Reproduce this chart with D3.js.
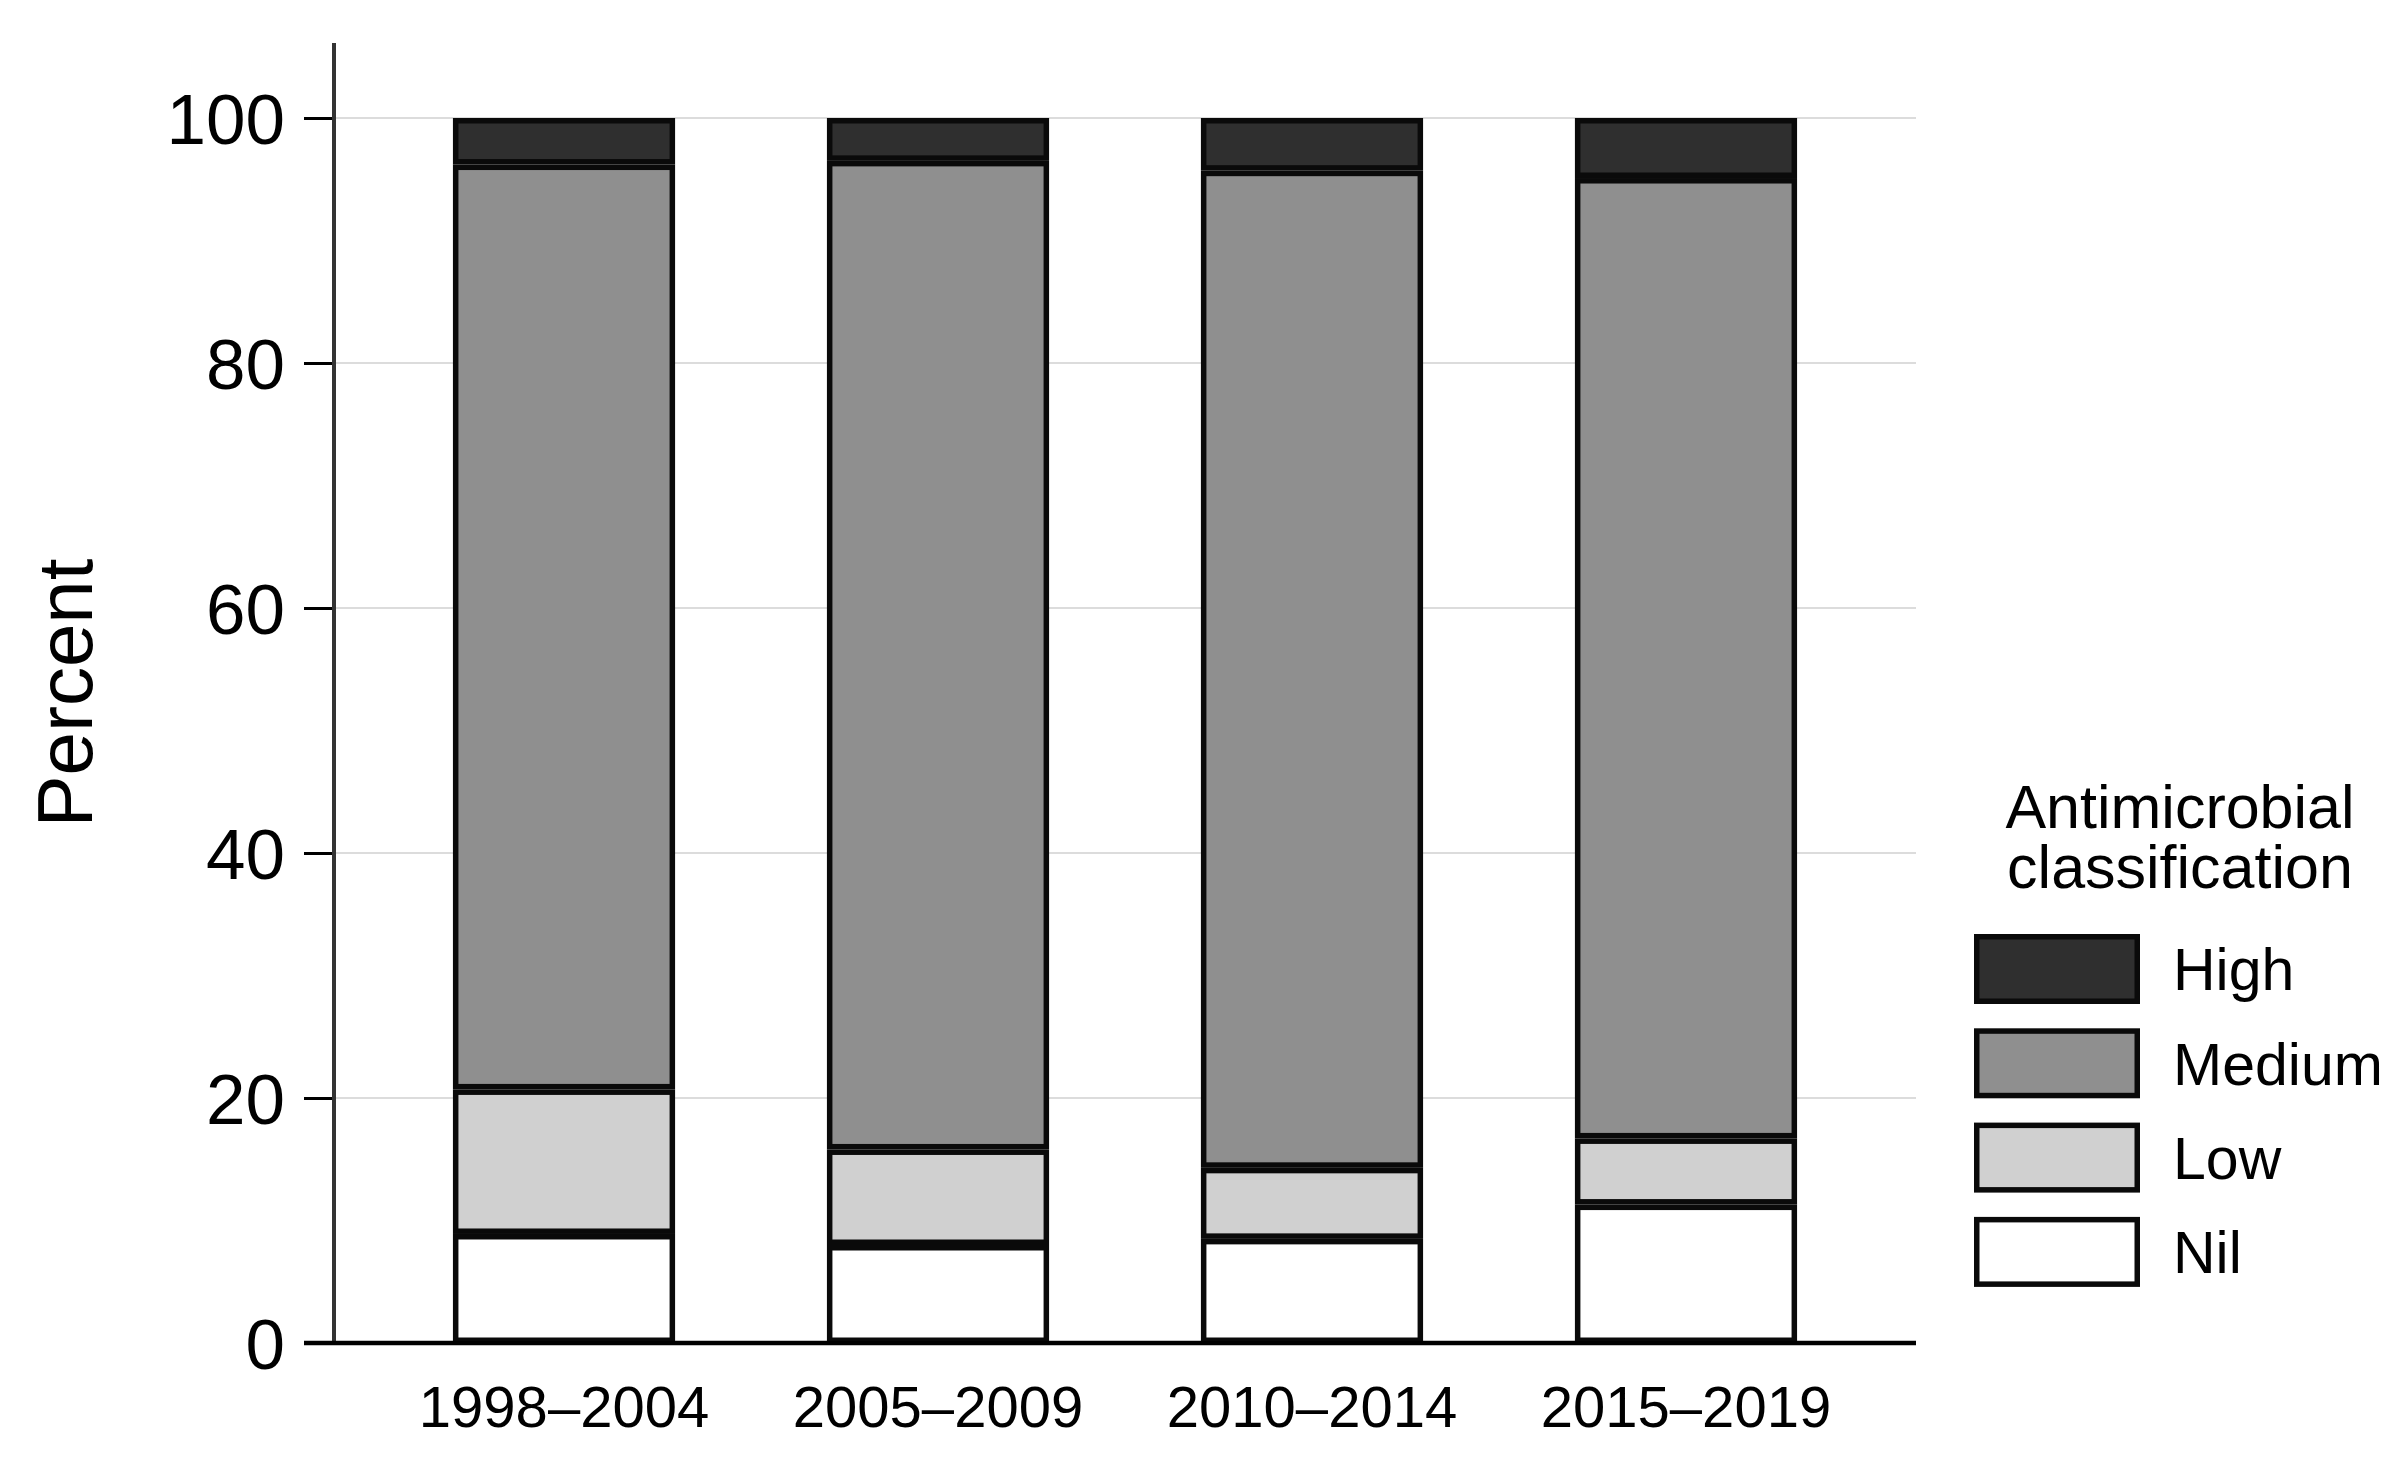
<!DOCTYPE html>
<html>
<head>
<meta charset="utf-8">
<script src="https://cdn.jsdelivr.net/npm/d3@7"></script>
<style>
  html, body { margin: 0; padding: 0; background: #fff; }
  svg { display: block; font-family: "Liberation Sans", Arial, sans-serif; }
</style>
</head>
<body>
<svg id="chart" width="2400" height="1462"></svg>
<script>
// ---- data ----
const categories = ["1998–2004", "2005–2009", "2010–2014", "2015–2019"];
const seriesNames = ["Nil", "Low", "Medium", "High"];
const nilValues = [8.9, 8.0, 8.5, 11.3];
const lowValues = [11.8, 7.8, 5.8, 5.4];
const mediumValues = [75.5, 80.7, 81.4, 78.4];
const highValues = [3.8, 3.5, 4.3, 4.9];
const yTickValues = [0, 20, 40, 60, 80, 100];
const legendTitle = ["Antimicrobial", "classification"];
const legendOrder = ["High", "Medium", "Low", "Nil"];
const yLabel = "Percent";

// ---- build table ----
const table = categories.map((c, i) => ({
  category: c,
  Nil: nilValues[i],
  Low: lowValues[i],
  Medium: mediumValues[i],
  High: highValues[i]
}));

const colors = { High: "#2f2f2f", Medium: "#8f8f8f", Low: "#d0d0d0", Nil: "#ffffff" };
const strokeColor = "#0a0a0a";
const sw = 5.5;

const svg = d3.select("#chart");

const x = d3.scaleBand()
  .domain(categories)
  .range([334, 1916])
  .paddingInner(0.406)
  .paddingOuter(0.318);

const y = d3.scaleLinear().domain([0, 100]).range([1343, 118]);

// gridlines
svg.append("g").selectAll("line")
  .data(yTickValues.filter(d => d > 0))
  .join("line")
  .attr("x1", 334).attr("x2", 1916)
  .attr("y1", d => y(d)).attr("y2", d => y(d))
  .attr("stroke", "#dcdcdc").attr("stroke-width", 2);

// stacked bars
const stacked = d3.stack().keys(seriesNames)(table);
const layers = svg.append("g").selectAll("g")
  .data(stacked)
  .join("g")
  .attr("fill", d => colors[d.key]);

layers.selectAll("rect")
  .data(d => d)
  .join("rect")
  .attr("x", d => x(d.data.category) + sw / 2)
  .attr("width", x.bandwidth() - sw)
  .attr("y", d => y(d[1]) + sw / 2)
  .attr("height", d => Math.max(0, y(d[0]) - y(d[1]) - sw))
  .attr("stroke", strokeColor)
  .attr("stroke-width", sw);

// y axis
const yAxis = d3.axisLeft(y)
  .tickValues(yTickValues)
  .tickSize(30)
  .tickPadding(19)
  .tickFormat(d3.format("d"));
const gy = svg.append("g").attr("transform", "translate(334,0)").call(yAxis);
gy.select(".domain").remove();
gy.selectAll(".tick line").attr("stroke", "#000").attr("stroke-width", 3);
gy.selectAll(".tick text")
  .attr("font-size", 71)
  .attr("fill", "#000")
  .attr("font-family", "Liberation Sans, Arial, sans-serif")
  .attr("dy", "0.36em");

// y axis line
svg.append("line")
  .attr("x1", 334).attr("x2", 334)
  .attr("y1", 43).attr("y2", y(0))
  .attr("stroke", "#333").attr("stroke-width", 4);

// x axis
const xAxis = d3.axisBottom(x).tickSize(0).tickPadding(43);
const gx = svg.append("g").attr("transform", `translate(0,${y(0)})`).call(xAxis);
gx.select(".domain").remove();
gx.selectAll(".tick text")
  .attr("font-size", 58)
  .attr("fill", "#000")
  .attr("font-family", "Liberation Sans, Arial, sans-serif");

svg.append("line")
  .attr("x1", 304).attr("x2", 1916)
  .attr("y1", y(0)).attr("y2", y(0))
  .attr("stroke", "#000").attr("stroke-width", 4.5);

// y label
svg.append("text")
  .attr("transform", "translate(92,693) rotate(-90)")
  .attr("text-anchor", "middle")
  .attr("font-size", 78)
  .attr("fill", "#000")
  .text(yLabel);

// legend
const legend = svg.append("g");
const title = legend.append("text")
  .attr("x", 2180)
  .attr("y", 828)
  .attr("text-anchor", "middle")
  .attr("font-size", 61)
  .attr("fill", "#000");
title.selectAll("tspan")
  .data(legendTitle)
  .join("tspan")
  .attr("x", 2180)
  .attr("y", (d, i) => 828 + i * 60)
  .text(d => d);

const lg = legend.selectAll("g.item")
  .data(legendOrder)
  .join("g")
  .attr("class", "item")
  .attr("transform", (d, i) => `translate(1974,${934 + i * 94.3})`);

lg.append("rect")
  .attr("x", sw / 2).attr("y", sw / 2)
  .attr("width", 166 - sw).attr("height", 70 - sw)
  .attr("fill", d => colors[d])
  .attr("stroke", strokeColor)
  .attr("stroke-width", sw);

lg.append("text")
  .attr("x", 199)
  .attr("y", 35)
  .attr("dy", "0.36em")
  .attr("font-size", 59)
  .attr("fill", "#000")
  .text(d => d);
</script>
</body>
</html>
